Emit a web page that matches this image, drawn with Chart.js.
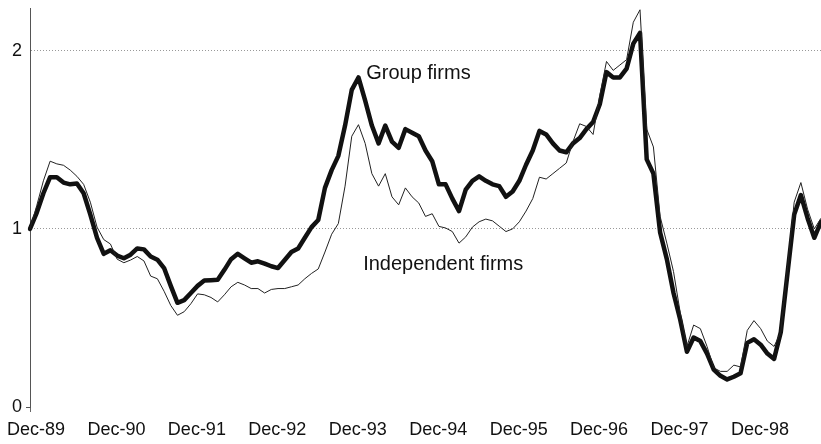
<!DOCTYPE html>
<html>
<head>
<meta charset="utf-8">
<title>Group vs independent firms</title>
<script src="https://cdn.jsdelivr.net/npm/chart.js@4/dist/chart.umd.min.js"></script>
<style>
  html, body { margin: 0; padding: 0; background: #fff; }
  #wrap { position: relative; width: 821px; height: 444px; }
</style>
</head>
<body>
<div id="wrap"><canvas id="chart"></canvas></div>
<script>
// Monthly index levels, Dec-89 = 1
const groupFirms = [
  1.00, 1.09, 1.20, 1.29, 1.29, 1.26, 1.25, 1.255, 1.20, 1.08, 0.95, 0.86,
  0.88, 0.85, 0.835, 0.855, 0.89, 0.885, 0.845, 0.827, 0.78, 0.68, 0.585, 0.60,
  0.64, 0.68, 0.71, 0.712, 0.714, 0.77, 0.83, 0.86, 0.835, 0.81, 0.818, 0.805,
  0.79, 0.78, 0.825, 0.87, 0.89, 0.95, 1.01, 1.05, 1.23, 1.33, 1.41, 1.58,
  1.78, 1.85, 1.72, 1.58, 1.48, 1.58, 1.49, 1.455, 1.56, 1.54, 1.52, 1.44,
  1.38, 1.25, 1.25, 1.17, 1.10, 1.22, 1.27, 1.295, 1.27, 1.25, 1.24, 1.18,
  1.21, 1.27, 1.36, 1.44, 1.55, 1.53, 1.48, 1.44, 1.43, 1.48, 1.51, 1.56,
  1.60, 1.70, 1.88, 1.85, 1.85, 1.90, 2.04, 2.10, 1.39, 1.31, 0.98, 0.83,
  0.64, 0.49, 0.31, 0.39, 0.37, 0.30, 0.21, 0.175, 0.155, 0.17, 0.19, 0.36,
  0.38, 0.35, 0.30, 0.27, 0.42, 0.75, 1.08, 1.19, 1.06, 0.95, 1.04
];
const independentFirms = [
  1.00, 1.13, 1.27, 1.38, 1.365, 1.357, 1.33, 1.295, 1.25, 1.15, 1.01, 0.94,
  0.915, 0.83, 0.81, 0.825, 0.845, 0.82, 0.735, 0.72, 0.65, 0.57, 0.515, 0.535,
  0.58, 0.635, 0.63, 0.615, 0.59, 0.63, 0.675, 0.70, 0.685, 0.665, 0.665, 0.64,
  0.66, 0.665, 0.665, 0.675, 0.685, 0.72, 0.75, 0.775, 0.87, 0.97, 1.03, 1.24,
  1.52, 1.585, 1.48, 1.31, 1.24, 1.31, 1.18, 1.135, 1.23, 1.18, 1.145, 1.07,
  1.085, 1.014, 1.005, 0.985, 0.92, 0.955, 1.01, 1.04, 1.055, 1.045, 1.015, 0.985,
  1.00, 1.04, 1.10, 1.17, 1.29, 1.28, 1.31, 1.34, 1.37, 1.49, 1.59, 1.575,
  1.53, 1.75, 1.94, 1.89, 1.92, 1.95, 2.16, 2.23, 1.56, 1.46, 1.07, 0.92,
  0.76, 0.53, 0.34, 0.46, 0.44, 0.34, 0.22, 0.20, 0.20, 0.235, 0.225, 0.43,
  0.485, 0.44, 0.37, 0.34, 0.42, 0.78, 1.15, 1.26, 1.11, 1.00, 1.06
];

const MONTH_NAMES = ["Jan", "Feb", "Mar", "Apr", "May", "Jun", "Jul", "Aug", "Sep", "Oct", "Nov", "Dec"];

// one category per month, starting Dec-89
const months = groupFirms.map((_, i) => {
  const m = 11 + i;
  const yr = (89 + Math.floor(m / 12)) % 100;
  return MONTH_NAMES[m % 12] + "-" + String(yr).padStart(2, "0");
});

const isDec = (i) => months[i] && months[i].startsWith("Dec");

const FONT = "'Liberation Sans', Arial, Helvetica, sans-serif";
const CLEAR = "rgba(0,0,0,0)";

// series names written beside the lines
const seriesLabels = {
  id: "seriesLabels",
  afterDatasetsDraw(chart) {
    const { ctx, scales: { x, y } } = chart;
    ctx.save();
    ctx.font = "20px " + FONT;
    ctx.fillStyle = "#111";
    ctx.textAlign = "left";
    ctx.textBaseline = "alphabetic";
    ctx.fillText("Group firms", x.getPixelForValue(50) + 1, y.getPixelForValue(1.84));
    ctx.fillText("Independent firms", x.getPixelForValue(50) - 2, y.getPixelForValue(0.77));
    ctx.restore();
  },
};

new Chart(document.getElementById("chart"), {
  type: "line",
  data: {
    labels: months,
    datasets: [
      {
        label: "Group firms",
        data: groupFirms,
        borderColor: "#111",
        borderWidth: 4.5,
        borderJoinStyle: "round",
        borderCapStyle: "round",
        pointRadius: 0,
        tension: 0,
        order: 2,
      },
      {
        label: "Independent firms",
        data: independentFirms,
        borderColor: "#222",
        borderWidth: 1,
        pointRadius: 0,
        tension: 0,
        order: 1,
      },
    ],
  },
  options: {
    responsive: true,
    maintainAspectRatio: false,
    animation: false,
    layout: { padding: { top: 8, left: 0, right: 0, bottom: 0 } },
    plugins: { legend: { display: false }, tooltip: { enabled: false } },
    scales: {
      x: {
        type: "category",
        offset: false,
        border: { display: false },
        grid: {
          drawOnChartArea: false,
          drawTicks: true,
          tickLength: 5,
          color: (ctx) => (isDec(ctx.index) ? "#666" : CLEAR),
        },
        ticks: {
          autoSkip: false,
          maxRotation: 0,
          padding: 7,
          labelOffset: 6,
          color: "#111",
          font: { family: FONT, size: 18 },
          callback: (val, i) => (isDec(i) ? months[i] : null),
        },
        afterFit: (s) => {
          s.height = 37;
          // first label may hang past the y axis
          s.paddingLeft = 0;
          s.paddingRight = 0;
        },
      },
      y: {
        min: 0,
        max: 2.24,
        border: { display: true, color: "#555", width: 1, dash: [1, 2] },
        grid: {
          drawTicks: true,
          tickLength: 4,
          tickColor: (ctx) => (ctx.tick && ctx.tick.value === 0 ? "#555" : CLEAR),
          color: (ctx) => (ctx.tick && ctx.tick.value > 0 ? "#999" : CLEAR),
        },
        ticks: {
          stepSize: 1,
          includeBounds: false,
          padding: 4,
          color: "#111",
          font: { family: FONT, size: 18 },
        },
        afterFit: (s) => {
          s.width = 30;
          s.paddingTop = 0;
          s.paddingBottom = 0;
        },
      },
    },
  },
  plugins: [seriesLabels],
});
</script>
</body>
</html>
